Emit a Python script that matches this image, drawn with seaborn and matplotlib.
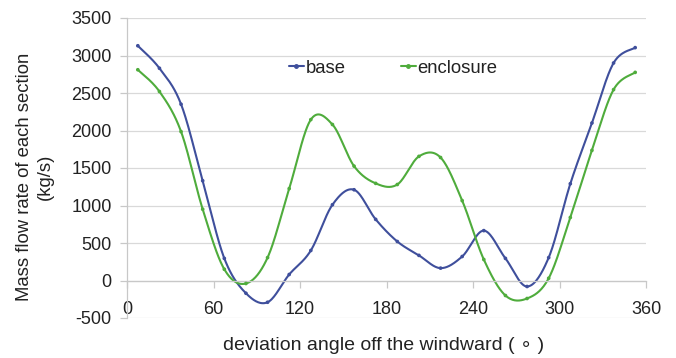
import numpy as np
import pandas as pd
import matplotlib
matplotlib.use("Agg")
import matplotlib.pyplot as plt
import seaborn as sns
from matplotlib.lines import Line2D

# ---- data ----
angles = [7.5, 22.5, 37.5, 52.5, 67.5, 82.5, 97.5, 112.5, 127.5, 142.5, 157.5, 172.5,
          187.5, 202.5, 217.5, 232.5, 247.5, 262.5, 277.5, 292.5, 307.5, 322.5, 337.5, 352.5]
base = [3130, 2830, 2350, 1330, 295, -170, -290, 80, 400, 1010, 1210, 815,
        520, 335, 165, 320, 665, 295, -80, 305, 1290, 2100, 2900, 3105]
enclosure = [2810, 2520, 1985, 950, 150, -40, 305, 1225, 2145, 2080, 1525, 1295,
             1280, 1655, 1640, 1065, 280, -200, -240, 30, 840, 1735, 2545, 2775]
series_names = ["base", "enclosure"]
x_ticks = [0, 60, 120, 180, 240, 300, 360]
y_ticks = [-500, 0, 500, 1000, 1500, 2000, 2500, 3000, 3500]

colors = {"base": "#3f4f9c", "enclosure": "#4fac3c"}


def smooth(xs, ys, n=30):
    """Catmull-Rom smoothing (like a spreadsheet 'smoothed line')."""
    P = np.column_stack([xs, ys]).astype(float)
    P = np.vstack([P[0], P, P[-1]])
    out = []
    t = np.linspace(0, 1, n, endpoint=False)
    for i in range(1, len(P) - 2):
        p0, p1, p2, p3 = P[i - 1], P[i], P[i + 1], P[i + 2]
        c1 = p1 + (p2 - p0) / 6.0
        c2 = p2 - (p3 - p1) / 6.0
        b = ((1 - t) ** 3)[:, None] * p1 + (3 * (1 - t) ** 2 * t)[:, None] * c1 \
            + (3 * (1 - t) * t ** 2)[:, None] * c2 + (t ** 3)[:, None] * p2
        out.append(b)
    out.append(P[-2][None, :])
    out = np.vstack(out)
    return out[:, 0], out[:, 1]


rows = []
pts = []
for name, vals in zip(series_names, [base, enclosure]):
    sx, sy = smooth(angles, vals)
    rows.append(pd.DataFrame({"angle": sx, "flow": sy, "series": name,
                              "order": np.arange(len(sx))}))
    pts.append(pd.DataFrame({"angle": angles, "flow": vals, "series": name}))
smooth_df = pd.concat(rows, ignore_index=True)
pts_df = pd.concat(pts, ignore_index=True)

sns.set_theme(style="white")
plt.rcParams["font.family"] = ["Liberation Sans", "DejaVu Sans"]

fig = plt.figure(figsize=(6.76, 3.58), dpi=100)
ax = fig.add_axes([127 / 676, 1 - 318 / 358, (646 - 127) / 676, 300 / 358])

sns.lineplot(data=smooth_df, x="angle", y="flow", hue="series", palette=colors,
             sort=False, estimator=None, units="series", linewidth=1.5, ax=ax,
             legend=False)
sns.scatterplot(data=pts_df, x="angle", y="flow", hue="series", palette=colors,
                s=7, linewidth=0, ax=ax, legend=False, zorder=3)

ax.set_xlim(0, 360)
ax.set_ylim(-500, 3500)
ax.set_xticks(x_ticks)
ax.set_yticks(y_ticks)
ax.set_xticklabels([str(v) for v in x_ticks])
ax.set_yticklabels([str(v) for v in y_ticks])

ax.yaxis.grid(True, color="#d9d9d9", linewidth=0.9)
ax.xaxis.grid(False)
ax.set_axisbelow(True)

for s in ["top", "right"]:
    ax.spines[s].set_visible(False)
ax.spines["bottom"].set_position(("data", 0))
ax.spines["bottom"].set_color("#c8c8c8")
ax.spines["left"].set_color("#c8c8c8")
ax.spines["bottom"].set_linewidth(0.9)
ax.spines["left"].set_linewidth(0.9)

ax.tick_params(axis="y", which="major", direction="out", length=5, width=0.9,
               color="#c8c8c8", labelsize=13, pad=6, labelcolor="#222222")
ax.tick_params(axis="x", which="major", direction="out", length=5, width=0.9,
               color="#c8c8c8", labelsize=13, pad=10, labelcolor="#222222")
ax.tick_params(axis="both", left=True, bottom=True)

ax.set_xlabel("")
ax.set_ylabel("")
fig.text(384 / 676, 1 - 345 / 358, "deviation angle off the windward ( \u2218 )",
         ha="center", va="center", fontsize=14, color="#222222",
         family=["Liberation Sans", "DejaVu Sans"])
fig.text(35 / 676, 1 - 177 / 358, "Mass flow rate of each section\n(kg/s)",
         ha="center", va="center", rotation=90, fontsize=13.3, color="#222222",
         linespacing=1.25, multialignment="center")

handles = [Line2D([0], [0], color=colors[n], lw=1.5, marker="o", markersize=2.5)
           for n in series_names]
ax.legend(handles, series_names, loc="center left", bbox_to_anchor=(0.28, 0.833),
          ncol=2, frameon=False, handlelength=0.8, handletextpad=0.1,
          columnspacing=3.0, fontsize=13.3, labelcolor="#222222")

fig.savefig("out.png", dpi=100)
